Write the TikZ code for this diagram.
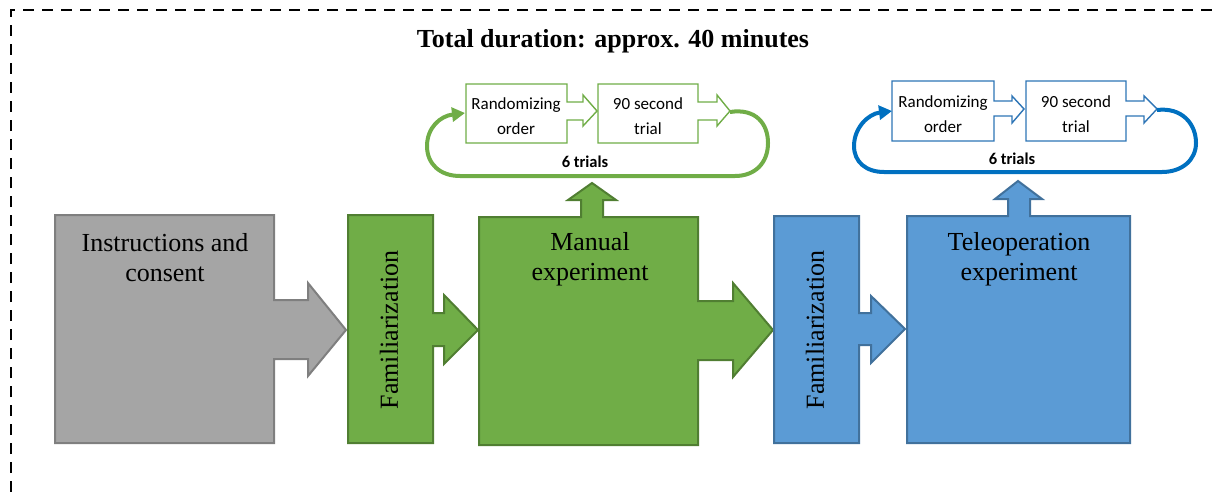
\documentclass[tikz,border=0pt]{standalone}
\usepackage{fontspec}
\setmainfont{Liberation Serif}
\newfontfamily\calibrifont{Carlito}
\usetikzlibrary{arrows.meta}
\definecolor{grayfill}{HTML}{A5A5A5}
\definecolor{grayline}{HTML}{7F7F7F}
\definecolor{gfill}{HTML}{70AD47}
\definecolor{gline}{HTML}{507E32}
\definecolor{bfill}{HTML}{5B9BD5}
\definecolor{bline}{HTML}{41719C}
\definecolor{bsmall}{HTML}{2E75B6}
\definecolor{bloop}{HTML}{0070C0}
\begin{document}
\begin{tikzpicture}[x=1pt,y=-1pt,
  bigtxt/.style={font=\fontsize{26}{30}\selectfont, align=center, inner sep=0pt},
  smalltxt/.style={font=\calibrifont\fontsize{17}{24.5}\selectfont, align=center, inner sep=0pt},
  looptxt/.style={font=\calibrifont\bfseries\fontsize{16.5}{20}\selectfont, inner sep=0pt},
  grayblock/.style={fill=grayfill, draw=grayline, line width=2pt, line join=miter},
  greenblock/.style={fill=gfill, draw=gline, line width=2pt, line join=miter},
  blueblock/.style={fill=bfill, draw=bline, line width=2pt, line join=miter},
  gsmall/.style={fill=white, draw=gfill, line width=1.4pt},
  bsmallbox/.style={fill=white, draw=bsmall, line width=1.4pt},
  gloop/.style={draw=gfill, line width=4pt, -{Triangle[length=13pt,width=14pt]}},
  bloopst/.style={draw=bloop, line width=4pt, -{Triangle[length=13pt,width=14pt]}}
]
\useasboundingbox (0,0) rectangle (1214,492);
% dashed frame
\draw[line width=2.5pt, dash pattern=on 11pt off 8pt] (11,492) -- (11,10) -- (1214,10);

% title
\node[font=\bfseries\fontsize{26}{30}\selectfont, inner sep=0pt] (title) at (613,41) {Total duration: approx. 40 minutes};

% gray block
\draw[grayblock] (55,215) -- (274,215) -- (274,300) -- (308,300) -- (308,283) -- (346,330) -- (308,376) -- (308,359) -- (274,359) -- (274,443) -- (55,443) -- cycle;
\node[bigtxt] (instr) at (165,258) {Instructions and\\consent};

% green familiarization
\draw[greenblock] (348,215) -- (433,215) -- (433,313) -- (444,313) -- (444,295) -- (478,330) -- (444,364) -- (444,346) -- (433,346) -- (433,443) -- (348,443) -- cycle;
\node[bigtxt, rotate=90] (fam1) at (389,330) {Familiarization};

% manual experiment
\draw[greenblock] (479,217) -- (581,217) -- (581,200) -- (568,200) -- (592,183) -- (616,200) -- (603,200) -- (603,217) -- (698,217) -- (698,301) -- (733,301) -- (733,283) -- (773,330) -- (733,377) -- (733,360) -- (698,360) -- (698,445) -- (479,445) -- cycle;
\node[bigtxt] (manual) at (590,259) {Manual\\experiment};

% blue familiarization
\draw[blueblock] (774,216) -- (859,216) -- (859,313) -- (871,313) -- (871,296) -- (905,329) -- (871,363) -- (871,345) -- (859,345) -- (859,443) -- (774,443) -- cycle;
\node[bigtxt, rotate=90] (fam2) at (815,330) {Familiarization};

% teleoperation
\draw[blueblock] (907,216) -- (1008,216) -- (1008,199) -- (995,199) -- (1018,181) -- (1042,199) -- (1030,199) -- (1030,216) -- (1130,216) -- (1130,443) -- (907,443) -- cycle;
\node[bigtxt] (tele) at (1019,259) {Teleoperation\\experiment};

% green small loop
\draw[gsmall] (466,84) -- (567,84) -- (567,102) -- (583,102) -- (583,95) -- (597,111) -- (583,126) -- (583,120) -- (567,120) -- (567,143) -- (466,143) -- cycle;
\node[smalltxt] (rand1) at (516,116) {Randomizing\\order};
\draw[gsmall] (598,84) -- (698,84) -- (698,102) -- (717,102) -- (717,95) -- (730,111) -- (717,126) -- (717,120) -- (698,120) -- (698,143) -- (598,143) -- cycle;
\node[smalltxt] (trial1) at (648,116) {90 second\\trial};
\coordinate (g1) at (730,112);
\coordinate (g2) at (768,143);
\coordinate (g3) at (735,176);
\coordinate (g4) at (460,176);
\coordinate (g5) at (427,146);
\coordinate (g6) at (465,113);
\draw[gloop] (g1) .. controls (756,108) and (768,124) .. (g2) .. controls (768,163) and (755,176) .. (g3) -- (g4) .. controls (440,176) and (427,164) .. (g5) .. controls (427,128) and (440,116) .. (g6);
\node[looptxt] (lbl1) at (585,162) {6 trials};

% blue small loop
\draw[bsmallbox] (892,81) -- (994,81) -- (994,101) -- (1012,101) -- (1012,96) -- (1024,109) -- (1012,123) -- (1012,116) -- (994,116) -- (994,141) -- (892,141) -- cycle;
\node[smalltxt] (rand2) at (943,114) {Randomizing\\order};
\draw[bsmallbox] (1026,81) -- (1126,81) -- (1126,101) -- (1144,101) -- (1144,96) -- (1157,109) -- (1144,123) -- (1144,116) -- (1126,116) -- (1126,141) -- (1026,141) -- cycle;
\node[smalltxt] (trial2) at (1076,114) {90 second\\trial};
\coordinate (b1) at (1157,110);
\coordinate (b2) at (1196,143);
\coordinate (b3) at (1162,172);
\coordinate (b4) at (884,172);
\coordinate (b5) at (854,146);
\coordinate (b6) at (892,111);
\draw[bloopst] (b1) .. controls (1182,107) and (1196,124) .. (b2) .. controls (1196,160) and (1182,172) .. (b3) -- (b4) .. controls (866,172) and (854,162) .. (b5) .. controls (854,128) and (868,114) .. (b6);
\node[looptxt] (lbl2) at (1012,159) {6 trials};
\end{tikzpicture}
\end{document}
